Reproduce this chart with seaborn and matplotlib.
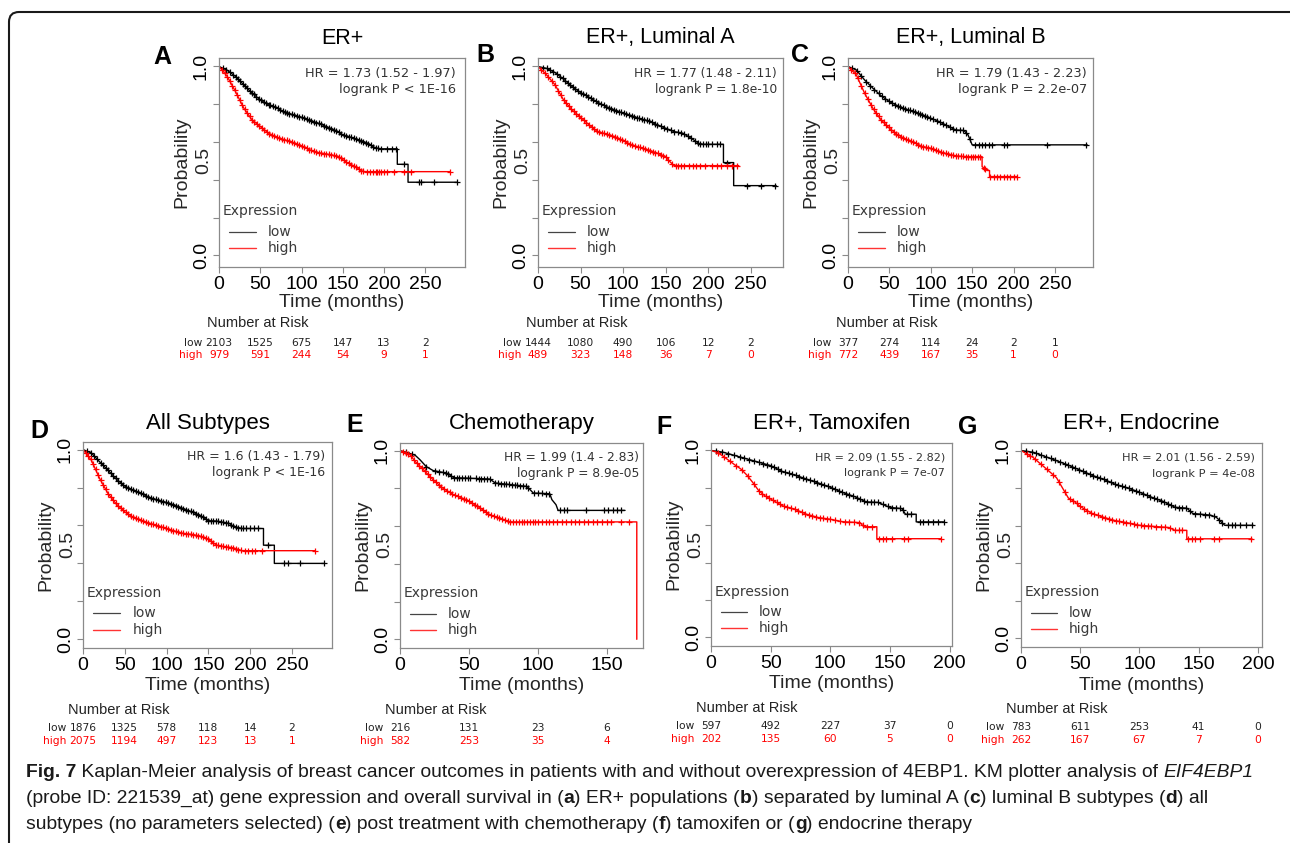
import numpy as np
import pandas as pd
import matplotlib
matplotlib.use("Agg")
import matplotlib.pyplot as plt
import seaborn as sns
from matplotlib import font_manager
from matplotlib.patches import FancyBboxPatch
from matplotlib.transforms import IdentityTransform, blended_transform_factory

# ---------------- data ----------------
titles = ["ER+", "ER+, Luminal A", "ER+, Luminal B", "All Subtypes",
          "Chemotherapy", "ER+, Tamoxifen", "ER+, Endocrine"]
letters = ["A", "B", "C", "D", "E", "F", "G"]
hr_texts = ["HR = 1.73 (1.52 - 1.97)", "HR = 1.77 (1.48 - 2.11)", "HR = 1.79 (1.43 - 2.23)",
            "HR = 1.6 (1.43 - 1.79)", "HR = 1.99 (1.4 - 2.83)", "HR = 2.09 (1.55 - 2.82)",
            "HR = 2.01 (1.56 - 2.59)"]
p_texts = ["logrank P < 1E-16", "logrank P = 1.8e-10", "logrank P = 2.2e-07",
           "logrank P < 1E-16", "logrank P = 8.9e-05", "logrank P = 7e-07",
           "logrank P = 4e-08"]

risk_times_long = [0, 50, 100, 150, 200, 250]
risk_times_chemo = [0, 50, 100, 150]
risk_times_endo = [0, 50, 100, 150, 200]
risk_low_A = [2103, 1525, 675, 147, 13, 2]
risk_high_A = [979, 591, 244, 54, 9, 1]
risk_low_B = [1444, 1080, 490, 106, 12, 2]
risk_high_B = [489, 323, 148, 36, 7, 0]
risk_low_C = [377, 274, 114, 24, 2, 1]
risk_high_C = [772, 439, 167, 35, 1, 0]
risk_low_D = [1876, 1325, 578, 118, 14, 2]
risk_high_D = [2075, 1194, 497, 123, 13, 1]
risk_low_E = [216, 131, 23, 6]
risk_high_E = [582, 253, 35, 4]
risk_low_F = [597, 492, 227, 37, 0]
risk_high_F = [202, 135, 60, 5, 0]
risk_low_G = [783, 611, 253, 41, 0]
risk_high_G = [262, 167, 67, 7, 0]

# survival curves (time in months, probability) and censor times
A_low_t = [0, 10, 20, 30, 40, 50, 60, 70, 80, 90, 100, 120, 140, 150, 160, 170, 180, 188, 195, 216, 216, 229, 229, 288]
A_low_s = [1.0, 0.98, 0.947, 0.903, 0.859, 0.823, 0.797, 0.78, 0.758, 0.744, 0.731, 0.70, 0.664, 0.638, 0.625, 0.61, 0.594, 0.572, 0.564, 0.564, 0.482, 0.482, 0.387, 0.387]
A_high_t = [0, 5, 10, 20, 30, 40, 50, 60, 70, 80, 90, 100, 110, 120, 130, 145, 155, 165, 172, 176, 280]
A_high_s = [1.0, 0.975, 0.947, 0.867, 0.78, 0.717, 0.682, 0.647, 0.625, 0.611, 0.597, 0.58, 0.558, 0.544, 0.537, 0.523, 0.491, 0.47, 0.449, 0.443, 0.443]
A_low_c = [5, 9, 13, 17, 20, 23, 26, 29, 31, 34, 37, 40, 42, 45, 48, 51, 54, 57, 60, 62, 65, 68, 71, 74, 77, 80, 82, 85, 88, 91, 94, 97, 100, 103, 106, 109, 112, 115, 118, 121, 124, 127, 130, 133, 136, 139, 142, 145, 148, 151, 154, 157, 160, 163, 166, 169, 172, 175, 178, 181, 184, 187, 190, 193, 196, 203, 209, 215, 224, 242, 245, 260, 288]
A_high_c = [4, 7, 10, 13, 16, 19, 22, 25, 28, 31, 34, 37, 40, 43, 46, 49, 52, 55, 58, 61, 64, 67, 70, 73, 76, 79, 82, 85, 88, 91, 94, 97, 100, 103, 106, 109, 112, 115, 118, 121, 124, 127, 130, 133, 136, 139, 142, 145, 148, 151, 154, 157, 160, 163, 166, 169, 172, 175, 179, 183, 187, 190, 192, 194, 196, 200, 204, 212, 224, 232, 280]

B_low_t = [0, 10, 20, 30, 40, 50, 60, 70, 80, 90, 100, 110, 120, 130, 140, 150, 160, 170, 180, 190, 195, 218, 218, 230, 230, 280]
B_low_s = [1.0, 0.99, 0.968, 0.933, 0.894, 0.862, 0.837, 0.811, 0.788, 0.77, 0.753, 0.74, 0.723, 0.712, 0.691, 0.673, 0.655, 0.647, 0.62, 0.59, 0.588, 0.588, 0.491, 0.491, 0.369, 0.369]
B_high_t = [0, 10, 20, 30, 40, 50, 60, 70, 80, 90, 100, 110, 120, 130, 140, 150, 155, 160, 236]
B_high_s = [1.0, 0.956, 0.903, 0.823, 0.77, 0.731, 0.691, 0.655, 0.643, 0.629, 0.608, 0.585, 0.571, 0.558, 0.541, 0.523, 0.496, 0.475, 0.475]
B_low_c = [6, 10, 14, 18, 22, 26, 29, 32, 35, 38, 41, 44, 47, 50, 53, 56, 59, 62, 65, 68, 71, 74, 77, 80, 83, 86, 89, 92, 95, 98, 101, 104, 107, 110, 113, 116, 119, 122, 125, 128, 131, 134, 137, 140, 144, 148, 152, 156, 160, 164, 168, 172, 176, 180, 184, 188, 191, 194, 197, 200, 205, 210, 214, 222, 246, 262, 279]
B_high_c = [4, 8, 12, 16, 20, 24, 27, 30, 33, 36, 39, 42, 45, 48, 51, 54, 57, 60, 63, 66, 69, 72, 75, 78, 81, 84, 87, 90, 93, 96, 99, 102, 105, 108, 111, 114, 117, 120, 123, 126, 129, 132, 135, 138, 141, 144, 147, 150, 153, 158, 162, 164, 168, 172, 178, 182, 186, 190, 196, 204, 210, 215, 222, 228, 234]

C_low_t = [0, 10, 20, 30, 40, 50, 60, 70, 80, 90, 100, 110, 120, 130, 140, 145, 150, 289]
C_low_s = [1.0, 0.982, 0.929, 0.885, 0.845, 0.814, 0.792, 0.774, 0.761, 0.744, 0.726, 0.708, 0.686, 0.664, 0.661, 0.638, 0.585, 0.585]
C_high_t = [0, 10, 20, 30, 40, 50, 60, 70, 80, 90, 100, 110, 120, 130, 140, 162, 162, 168, 171, 171, 204]
C_high_s = [1.0, 0.956, 0.859, 0.779, 0.717, 0.673, 0.638, 0.615, 0.597, 0.576, 0.567, 0.549, 0.537, 0.527, 0.523, 0.523, 0.47, 0.449, 0.449, 0.417, 0.417]
C_low_c = [5, 11, 16, 22, 27, 32, 37, 41, 45, 49, 53, 57, 60, 63, 66, 69, 72, 75, 78, 81, 84, 87, 90, 93, 96, 99, 103, 107, 111, 115, 119, 123, 127, 131, 135, 139, 143, 147, 154, 158, 162, 166, 170, 174, 188, 192, 241, 288]
C_high_c = [4, 8, 12, 16, 20, 24, 28, 31, 34, 37, 40, 43, 46, 49, 52, 55, 58, 61, 64, 67, 70, 73, 76, 79, 82, 85, 88, 91, 94, 97, 100, 103, 106, 109, 112, 115, 118, 121, 124, 127, 130, 133, 136, 139, 142, 145, 148, 151, 154, 157, 160, 164, 166, 172, 176, 180, 184, 188, 192, 196, 200, 204]

D_low_t = [0, 10, 20, 30, 40, 50, 60, 70, 80, 90, 100, 110, 120, 130, 140, 150, 160, 175, 180, 190, 216, 216, 229, 229, 288]
D_low_s = [1.0, 0.982, 0.935, 0.891, 0.844, 0.807, 0.786, 0.768, 0.747, 0.733, 0.721, 0.707, 0.689, 0.672, 0.654, 0.625, 0.623, 0.611, 0.596, 0.584, 0.584, 0.496, 0.496, 0.4, 0.4]
D_high_t = [0, 10, 20, 30, 40, 50, 60, 70, 80, 90, 100, 110, 120, 130, 140, 150, 160, 170, 180, 190, 278]
D_high_s = [1.0, 0.944, 0.847, 0.768, 0.712, 0.672, 0.642, 0.625, 0.611, 0.598, 0.584, 0.57, 0.558, 0.553, 0.544, 0.526, 0.496, 0.488, 0.482, 0.467, 0.467]
D_low_c = [5, 9, 13, 17, 21, 24, 27, 30, 33, 36, 39, 42, 45, 48, 51, 54, 57, 60, 63, 66, 69, 72, 75, 78, 81, 84, 87, 90, 93, 96, 99, 102, 105, 108, 111, 114, 117, 120, 123, 126, 129, 132, 135, 138, 141, 144, 147, 150, 153, 156, 159, 162, 165, 168, 171, 174, 177, 180, 183, 186, 189, 192, 195, 200, 205, 210, 222, 240, 245, 260, 288]
D_high_c = [3, 6, 9, 12, 15, 18, 21, 24, 27, 30, 33, 36, 39, 42, 45, 48, 51, 54, 57, 60, 63, 66, 69, 72, 75, 78, 81, 84, 87, 90, 93, 96, 99, 102, 105, 108, 111, 114, 117, 120, 123, 126, 129, 132, 135, 138, 141, 144, 147, 150, 153, 156, 159, 162, 165, 168, 171, 174, 177, 180, 183, 186, 189, 194, 198, 202, 206, 214, 278]

E_low_t = [0, 7, 11, 14.5, 19, 24, 34, 39, 48, 65, 69, 92, 96.5, 108.5, 110, 113, 114.5, 163]
E_low_s = [1.0, 0.985, 0.975, 0.951, 0.915, 0.894, 0.88, 0.856, 0.854, 0.849, 0.828, 0.81, 0.775, 0.771, 0.74, 0.713, 0.683, 0.683]
E_high_t = [0, 7, 11, 17, 24, 31, 38.6, 48, 58, 65, 72, 79.5, 171.5, 171.5]
E_high_s = [1.0, 0.98, 0.942, 0.898, 0.845, 0.801, 0.766, 0.74, 0.696, 0.66, 0.643, 0.622, 0.622, 0.0]
E_low_c = [4, 9, 19, 25, 28, 31, 33, 35, 37, 39, 41, 43, 45, 47, 49, 51, 55, 57, 59, 61, 63, 65, 69, 71, 73, 75, 77, 79, 81, 83, 85, 87, 89, 91, 93, 97, 100, 103, 106, 108, 116, 119, 121, 135, 148, 151, 154, 157, 160]
E_high_c = [2, 4, 6, 8, 10, 12, 14, 16, 18, 20, 22, 24, 26, 28, 30, 32, 34, 36, 38, 40, 42, 44, 46, 48, 50, 52, 54, 56, 58, 60, 62, 64, 66, 68, 70, 72, 74, 76, 78, 80, 82, 84, 86, 88, 90, 92, 94, 96, 98, 100, 103, 106, 108, 111, 114, 117, 120, 124, 127, 130, 133, 136, 140, 143, 146, 150, 153, 160, 166]

F_low_t = [0, 10, 20, 30, 40, 50, 60, 70, 80, 90, 100, 110, 120, 130, 140, 150, 160, 163, 172, 172, 195]
F_low_s = [1.0, 0.991, 0.973, 0.955, 0.937, 0.919, 0.887, 0.869, 0.847, 0.826, 0.803, 0.776, 0.754, 0.725, 0.722, 0.695, 0.689, 0.659, 0.659, 0.618, 0.618]
F_high_t = [0, 5, 10, 20, 25, 30, 35, 40, 45, 50, 60, 70, 80, 90, 100, 110, 125, 128, 139, 139, 193]
F_high_s = [1.0, 0.991, 0.97, 0.923, 0.901, 0.869, 0.829, 0.785, 0.758, 0.74, 0.704, 0.686, 0.659, 0.641, 0.632, 0.619, 0.614, 0.592, 0.592, 0.528, 0.528]
F_low_c = [4, 9, 14, 19, 24, 28, 32, 36, 40, 44, 47, 50, 53, 56, 59, 62, 65, 68, 71, 74, 77, 80, 83, 86, 89, 92, 95, 98, 101, 104, 107, 110, 113, 116, 119, 122, 125, 128, 131, 134, 137, 140, 144, 148, 152, 155, 158, 161, 164, 168, 175, 178, 182, 186, 190, 195]
F_high_c = [6, 11, 16, 21, 26, 31, 36, 40, 43, 46, 49, 52, 55, 58, 61, 64, 67, 70, 73, 76, 79, 82, 85, 88, 91, 94, 97, 100, 104, 108, 112, 116, 120, 124, 127, 131, 135, 141, 144, 147, 152, 162, 165, 193]

G_low_t = [0, 10, 20, 30, 40, 50, 60, 70, 80, 90, 100, 110, 120, 130, 140, 145, 160, 165, 172, 196]
G_low_s = [1.0, 0.991, 0.969, 0.946, 0.922, 0.895, 0.868, 0.846, 0.819, 0.801, 0.778, 0.752, 0.729, 0.698, 0.693, 0.665, 0.656, 0.644, 0.602, 0.602]
G_high_t = [0, 10, 20, 30, 40, 45, 50, 60, 70, 80, 90, 100, 110, 125, 130, 140, 140, 195]
G_high_s = [1.0, 0.964, 0.91, 0.855, 0.747, 0.729, 0.702, 0.665, 0.644, 0.626, 0.615, 0.602, 0.597, 0.59, 0.575, 0.575, 0.53, 0.53]
G_low_c = [4, 9, 13, 17, 21, 25, 29, 33, 37, 40, 43, 46, 49, 52, 55, 58, 61, 64, 67, 70, 73, 76, 79, 82, 85, 88, 91, 94, 97, 100, 103, 106, 109, 112, 115, 118, 121, 124, 127, 130, 133, 136, 139, 143, 147, 151, 155, 159, 163, 167, 170, 175, 178, 181, 185, 190, 195]
G_high_c = [5, 8, 12, 17, 22, 27, 32, 37, 41, 44, 47, 50, 53, 56, 59, 62, 65, 68, 71, 74, 77, 80, 83, 86, 89, 92, 95, 98, 101, 104, 107, 110, 114, 118, 122, 126, 130, 133, 136, 141, 144, 147, 151, 163, 167, 194]

caption_lines = [
    [("Fig. 7", "bold", "normal"),
     (" Kaplan-Meier analysis of breast cancer outcomes in patients with and without overexpression of 4EBP1. KM plotter analysis of ", "normal", "normal"),
     ("EIF4EBP1", "normal", "italic")],
    [("(probe ID: 221539_at) gene expression and overall survival in (", "normal", "normal"), ("a", "bold", "normal"),
     (") ER+ populations (", "normal", "normal"), ("b", "bold", "normal"),
     (") separated by luminal A (", "normal", "normal"), ("c", "bold", "normal"),
     (") luminal B subtypes (", "normal", "normal"), ("d", "bold", "normal"), (") all", "normal", "normal")],
    [("subtypes (no parameters selected) (", "normal", "normal"), ("e", "bold", "normal"),
     (") post treatment with chemotherapy (", "normal", "normal"), ("f", "bold", "normal"),
     (") tamoxifen or (", "normal", "normal"), ("g", "bold", "normal"), (") endocrine therapy", "normal", "normal")],
]

# ---------------- layout ----------------
W, H = 1290, 843
sns.set_style("white")
plt.rcParams["font.family"] = ["Liberation Sans", "DejaVu Sans"]

# condensed caption font if available
cap_family = "Liberation Sans"
try:
    font_manager.findfont(font_manager.FontProperties(family="Liberation Sans Narrow"),
                          fallback_to_default=False)
    cap_family = "Liberation Sans Narrow"
except Exception:
    cap_family = "Liberation Sans"

fig = plt.figure(figsize=(W / 100, H / 100), dpi=100)

panel_box = [(219, 58, 465, 267), (538, 58, 783, 267), (848, 58, 1093, 267),
             (83, 442, 332, 648), (400, 443, 643, 648), (711, 443, 952, 646), (1021, 443, 1262, 647)]
panel_xmax = [298, 288, 296, 298, 176, 202, 203.5]
letter_pos = [(162, 57), (485, 55), (800, 55), (39, 431), (355, 425), (664, 427), (968, 427)]
hr_x = [0.963, 0.976, 0.976, 0.972, 0.985, 0.971, 0.971]
hr_size = [9.3, 8.8, 9.3, 9.0, 8.8, 8.0, 8.2]

curves = [
    (A_low_t, A_low_s, A_low_c, A_high_t, A_high_s, A_high_c),
    (B_low_t, B_low_s, B_low_c, B_high_t, B_high_s, B_high_c),
    (C_low_t, C_low_s, C_low_c, C_high_t, C_high_s, C_high_c),
    (D_low_t, D_low_s, D_low_c, D_high_t, D_high_s, D_high_c),
    (E_low_t, E_low_s, E_low_c, E_high_t, E_high_s, E_high_c),
    (F_low_t, F_low_s, F_low_c, F_high_t, F_high_s, F_high_c),
    (G_low_t, G_low_s, G_low_c, G_high_t, G_high_s, G_high_c),
]
risks = [
    (risk_times_long, risk_low_A, risk_high_A), (risk_times_long, risk_low_B, risk_high_B),
    (risk_times_long, risk_low_C, risk_high_C), (risk_times_long, risk_low_D, risk_high_D),
    (risk_times_chemo, risk_low_E, risk_high_E), (risk_times_endo, risk_low_F, risk_high_F),
    (risk_times_endo, risk_low_G, risk_high_G),
]
xticks_list = [risk_times_long] * 4 + [risk_times_chemo, risk_times_endo, risk_times_endo]

BLACK = "#000000"
RED = "#ff0000"
BOXC = "#8a8a8a"

for i in range(7):
    x0, y0, x1, y1 = panel_box[i]
    wpx, hpx = x1 - x0, y1 - y0
    top_row = i < 3
    ax = fig.add_axes([x0 / W, 1 - y1 / H, wpx / W, hpx / H])
    lt, ls_, lc, ht, hs, hc = curves[i]
    for t, s, c, col in ((lt, ls_, lc, BLACK), (ht, hs, hc, RED)):
        df = pd.DataFrame({"time": t, "surv": s})
        sns.lineplot(data=df, x="time", y="surv", estimator=None, sort=False,
                     color=col, lw=1.0, ax=ax)
        cy = np.interp(c, t, s)
        ax.plot(c, cy, ls="none", marker="+", ms=5, mew=0.9, color=col)

    ax.set_xlim(0, panel_xmax[i])
    if top_row:
        ax.set_ylim(-0.062, 1.045)
    else:
        ax.set_ylim(-0.046, 1.04)
    xt = xticks_list[i]
    ax.set_xticks(xt)
    ax.set_xticklabels([str(v) for v in xt])
    ax.set_yticks([0, 0.2, 0.4, 0.6, 0.8, 1.0])
    ax.set_yticklabels(["0.0", "", "", "", "", "1.0"])
    ax.set_yticks([0.5], minor=True)
    ax.set_yticklabels(["0.5"], minor=True)
    ax.tick_params(axis="both", which="major", direction="out", length=4.5, width=0.8,
                   color=BOXC, labelsize=14, pad=2, bottom=True, left=True, labelcolor="black")
    ax.tick_params(axis="y", which="minor", length=0, labelsize=14, pad=5.2, left=True)
    ax.tick_params(axis="y", which="both", labelrotation=90)
    for lab in ax.get_yticklabels(which="both"):
        lab.set_va("center")
    for sp in ax.spines.values():
        sp.set_color(BOXC)
        sp.set_linewidth(0.9)
    ax.set_xlabel("Time (months)", fontsize=14, labelpad=0.5 if top_row else 2.5)
    ax.set_ylabel("Probability", fontsize=14, labelpad=2)

    # HR / logrank
    ax.text(hr_x[i], 0.928, hr_texts[i], transform=ax.transAxes, ha="right", va="center",
            fontsize=hr_size[i], family="DejaVu Sans", color="#333333")
    ax.text(hr_x[i], 0.85, p_texts[i], transform=ax.transAxes, ha="right", va="center",
            fontsize=hr_size[i], family="DejaVu Sans", color="#333333")

    # legend
    ax.text(0.016, 0.268, "Expression", transform=ax.transAxes, ha="left", va="center",
            fontsize=10, family="DejaVu Sans", color="#3a3a3a")
    ax.plot([0.04, 0.15], [0.168, 0.168], transform=ax.transAxes, color="#444444", lw=0.9)
    ax.plot([0.04, 0.15], [0.089, 0.089], transform=ax.transAxes, color="#ff3333", lw=1.0)
    ax.text(0.198, 0.168, "low", transform=ax.transAxes, ha="left", va="center",
            fontsize=10, family="DejaVu Sans", color="#3a3a3a")
    ax.text(0.198, 0.089, "high", transform=ax.transAxes, ha="left", va="center",
            fontsize=10, family="DejaVu Sans", color="#3a3a3a")

    # title
    ax.text(0.5, 1 + (20 if top_row else 19) / hpx, titles[i], transform=ax.transAxes,
            ha="center", va="center", fontsize=15.5 if top_row else 16, color="black")

    # number at risk
    off_n, off_l, off_h = (56, 76, 87.5) if top_row else (62, 80, 93)
    ax.text(-(12 if top_row else 15) / wpx, -off_n / hpx, "Number at Risk", transform=ax.transAxes,
            ha="left", va="center", fontsize=10.5, color="#222222")
    tr = blended_transform_factory(ax.transData, ax.transAxes)
    rt, rl, rh = risks[i]
    ax.text(-17 / wpx, -off_l / hpx, "low", transform=ax.transAxes, ha="right", va="center",
            fontsize=7.7, family="DejaVu Sans", color="#222222")
    ax.text(-17 / wpx, -off_h / hpx, "high", transform=ax.transAxes, ha="right", va="center",
            fontsize=7.7, family="DejaVu Sans", color=RED)
    for tv, a, b in zip(rt, rl, rh):
        ax.text(tv, -off_l / hpx, str(a), transform=tr, ha="center", va="center",
                fontsize=7.7, family="DejaVu Sans", color="#222222", clip_on=False)
        ax.text(tv, -off_h / hpx, str(b), transform=tr, ha="center", va="center",
                fontsize=7.7, family="DejaVu Sans", color=RED, clip_on=False)

    # panel letter
    lx, ly = letter_pos[i]
    fig.text(lx / W, 1 - ly / H, letters[i], ha="center", va="center", fontsize=18,
             fontweight="bold", color="black")

# frame
frame = FancyBboxPatch((9, -30), 1300, H - 12 + 30, boxstyle="round,pad=0,rounding_size=10",
                       transform=IdentityTransform(), fill=False, lw=1.5, ec="#1a1a1a")
fig.add_artist(frame)

# caption
renderer = fig.canvas.get_renderer()


def text_width(txt, size, weight, style):
    t1 = fig.text(0, 0, "|" + txt + "|", fontsize=size, fontweight=weight, fontstyle=style,
                  family=cap_family)
    t2 = fig.text(0, 0, "||", fontsize=size, fontweight=weight, fontstyle=style,
                  family=cap_family)
    w = t1.get_window_extent(renderer).width - t2.get_window_extent(renderer).width
    t1.remove()
    t2.remove()
    return w


base = 12.0
w1 = sum(text_width(s, base, wt, st) for s, wt, st in caption_lines[0])
cap_size = base * 1232.0 / w1
baselines = [777, 803, 829]
for line, yb in zip(caption_lines, baselines):
    x = 26.0
    for s, wt, st in line:
        fig.text(x / W, 1 - yb / H, s, fontsize=cap_size, fontweight=wt, fontstyle=st,
                 family=cap_family, ha="left", va="baseline", color="#1a1a1a")
        x += text_width(s, cap_size, wt, st)

fig.savefig("out.png", dpi=100)
